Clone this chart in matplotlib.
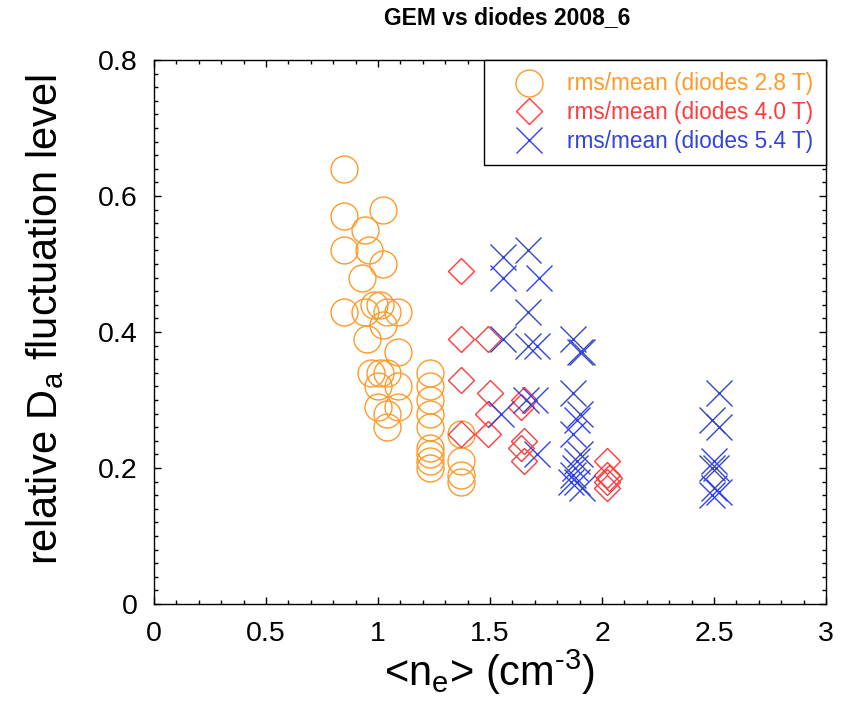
"""
GEM vs diodes fluctuation level scatter, 2008_6.
"""

import matplotlib
matplotlib.use('Agg')
import matplotlib.pyplot as plt
from matplotlib.ticker import MultipleLocator

# diodes 2.8 T (orange circles)
x_28 = [0.85, 0.85, 1.02, 0.94, 0.85, 0.96, 1.02, 0.93, 0.85, 0.94, 0.98, 1.01, 1.04,
        1.09, 0.95, 1.02, 1.09, 0.97, 1.01, 1.04, 1.00, 1.09, 1.00, 1.09, 1.04, 1.04,
        1.23, 1.23, 1.23, 1.23, 1.23, 1.23, 1.23, 1.23, 1.23,
        1.37, 1.37, 1.37, 1.37]
y_28 = [0.64, 0.57, 0.58, 0.55, 0.52, 0.52, 0.50, 0.48, 0.43, 0.43, 0.44, 0.44, 0.43,
        0.43, 0.39, 0.41, 0.37, 0.34, 0.34, 0.34, 0.32, 0.32, 0.29, 0.29, 0.28, 0.26,
        0.34, 0.32, 0.30, 0.28, 0.26, 0.23, 0.22, 0.21, 0.20,
        0.25, 0.21, 0.19, 0.18]

# diodes 4.0 T (red diamonds)
x_40 = [1.37, 1.37, 1.37, 1.37, 1.49, 1.50, 1.49, 1.49, 1.65, 1.64, 1.65, 1.64, 1.65,
        2.02, 2.02, 2.02, 2.02, 2.03]
y_40 = [0.49, 0.39, 0.33, 0.25, 0.39, 0.31, 0.28, 0.25, 0.30, 0.29, 0.24, 0.23, 0.21,
        0.21, 0.19, 0.18, 0.17, 0.185]

# diodes 5.4 T (blue crosses)
x_54 = [1.56, 1.67, 1.56, 1.72, 1.67, 1.56, 1.67, 1.71, 1.87, 1.90, 1.91, 1.55, 1.66,
        1.70, 1.87, 1.90, 1.89, 1.87, 1.71, 1.90, 1.89, 1.88, 1.87, 1.89, 1.91, 1.86,
        2.52, 2.49, 2.52, 2.50, 2.49, 2.51, 2.50, 2.49, 2.52]
y_54 = [0.51, 0.52, 0.48, 0.48, 0.43, 0.39, 0.38, 0.38, 0.39, 0.37, 0.37, 0.28, 0.30,
        0.30, 0.31, 0.28, 0.27, 0.25, 0.22, 0.22, 0.21, 0.20, 0.19, 0.18, 0.17, 0.18,
        0.31, 0.27, 0.26, 0.21, 0.20, 0.20, 0.17, 0.16, 0.165]

labels = ['rms/mean (diodes 2.8 T)', 'rms/mean (diodes 4.0 T)', 'rms/mean (diodes 5.4 T)']
colors = ['#ff9a2a', '#ff3b3b', '#3344dd']

plt.rcParams['font.family'] = ['Liberation Sans', 'DejaVu Sans']
plt.rcParams['mathtext.fontset'] = 'custom'
plt.rcParams['mathtext.rm'] = 'Liberation Sans'
plt.rcParams['mathtext.it'] = 'Liberation Sans'

fig = plt.figure(figsize=(8.43, 7.27), dpi=100)
ax = fig.add_axes([0.1827, 0.1692, 0.7972, 0.7483])

ms = 19.4
ax.plot(x_28, y_28, 'o', ls='none', ms=ms, mfc='none', mec=colors[0], mew=1.0, label=labels[0])
ax.plot(x_40, y_40, 'D', ls='none', ms=ms / 1.414, mfc='none', mec=colors[1], mew=1.0, label=labels[1])
ax.plot(x_54, y_54, 'x', ls='none', ms=ms, mec=colors[2], mew=1.0, label=labels[2])

ax.set_xlim(0, 3)
ax.set_ylim(0, 0.8)
ax.xaxis.set_minor_locator(MultipleLocator(0.1))
ax.yaxis.set_minor_locator(MultipleLocator(0.02))
ax.set_xticks([0, 0.5, 1, 1.5, 2, 2.5, 3], ['0', '0.5', '1', '1.5', '2', '2.5', '3'])
ax.set_yticks([0, 0.2, 0.4, 0.6, 0.8], ['0', '0.2', '0.4', '0.6', '0.8'])
ax.tick_params(which='both', direction='in', top=True, right=True, width=1.0, labelsize=20.5)
ax.tick_params(which='major', length=5, pad=12)
ax.tick_params(which='minor', length=3)
for sp in ax.spines.values():
    sp.set_linewidth(1.0)

ax.set_xlabel('<n$_\\mathregular{e}$> (cm$^\\mathregular{\u20103}$)', fontsize=30, labelpad=1)
ax.set_ylabel('relative D$_\\mathregular{a}$ fluctuation level', fontsize=30, labelpad=18)
ax.yaxis.set_label_coords(-0.131, 0.524)

fig.text(507 / 843, 1 - 18 / 727, 'GEM vs diodes 2008_6', ha='center', va='center',
         fontsize=16.5, fontweight='bold')

leg = ax.legend(loc='upper right', borderaxespad=0, fontsize=16.3, frameon=True, fancybox=False,
                edgecolor='black', framealpha=1, borderpad=0.55, handlelength=2.9,
                handletextpad=0.25, labelspacing=0.25)
leg.get_frame().set_linewidth(1.0)
for txt, c in zip(leg.get_texts(), colors):
    txt.set_color(c)

fig.savefig('out.png', dpi=100)
